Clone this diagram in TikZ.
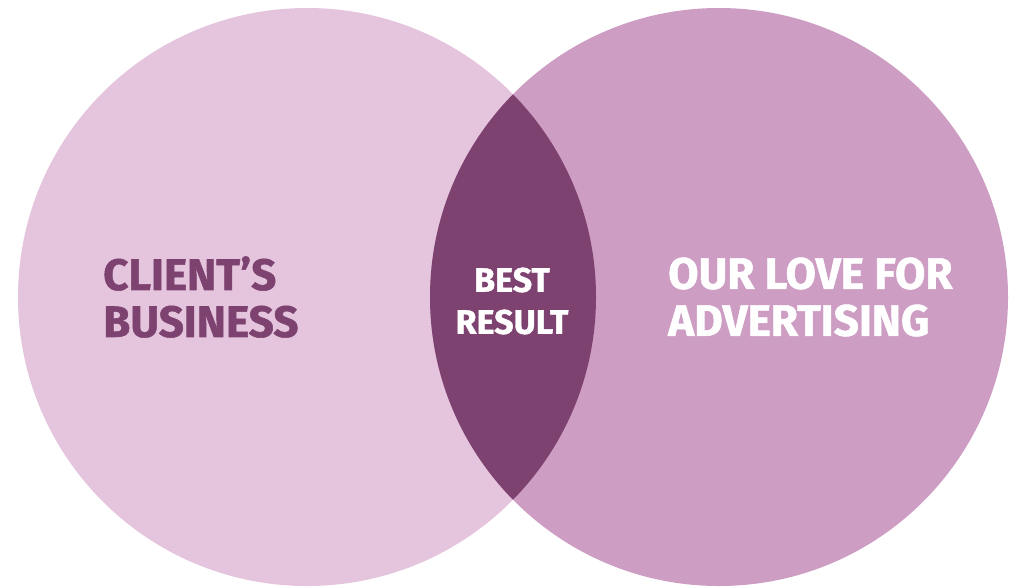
\documentclass[tikz,border=0pt]{standalone}
\usepackage{fontspec}
\newfontfamily\vennfont{Fira Sans}[FakeBold=1.2]
\usetikzlibrary{positioning}
\definecolor{clientpink}{HTML}{E5C4DE}
\definecolor{lovepink}{HTML}{CD9DC3}
\definecolor{bestplum}{HTML}{7D426F}
\begin{document}
\begin{tikzpicture}[x=1pt,y=-1pt,
        set node/.style={circle,inner sep=0pt,minimum size=578pt},
        label text/.style={font=\vennfont\bfseries\fontsize{44}{47}\selectfont,align=left,inner sep=0pt},
        mid text/.style={font=\vennfont\bfseries\fontsize{34}{42}\selectfont,align=center,inner sep=0pt,text=white}]
    \useasboundingbox (0,0) rectangle (1014,587);

    \node[set node,fill=clientpink] (client) at (307,297) {};
    \node[set node,fill=lovepink] (love) at (719,297) {};
    \begin{scope}
        \clip (307,297) circle (289pt);
        \fill[bestplum] (719,297) circle (289pt);
    \end{scope}

    \node[label text,text=bestplum,anchor=west] (clienttxt) at (103,297) {CLIENT’S\\BUSINESS};
    \node[mid text] (best) at (512,301) {BEST\\RESULT};
    \node[label text,text=white,anchor=west] (lovetxt) at (668,297) {OUR LOVE FOR\\ADVERTISING};
\end{tikzpicture}
\end{document}
